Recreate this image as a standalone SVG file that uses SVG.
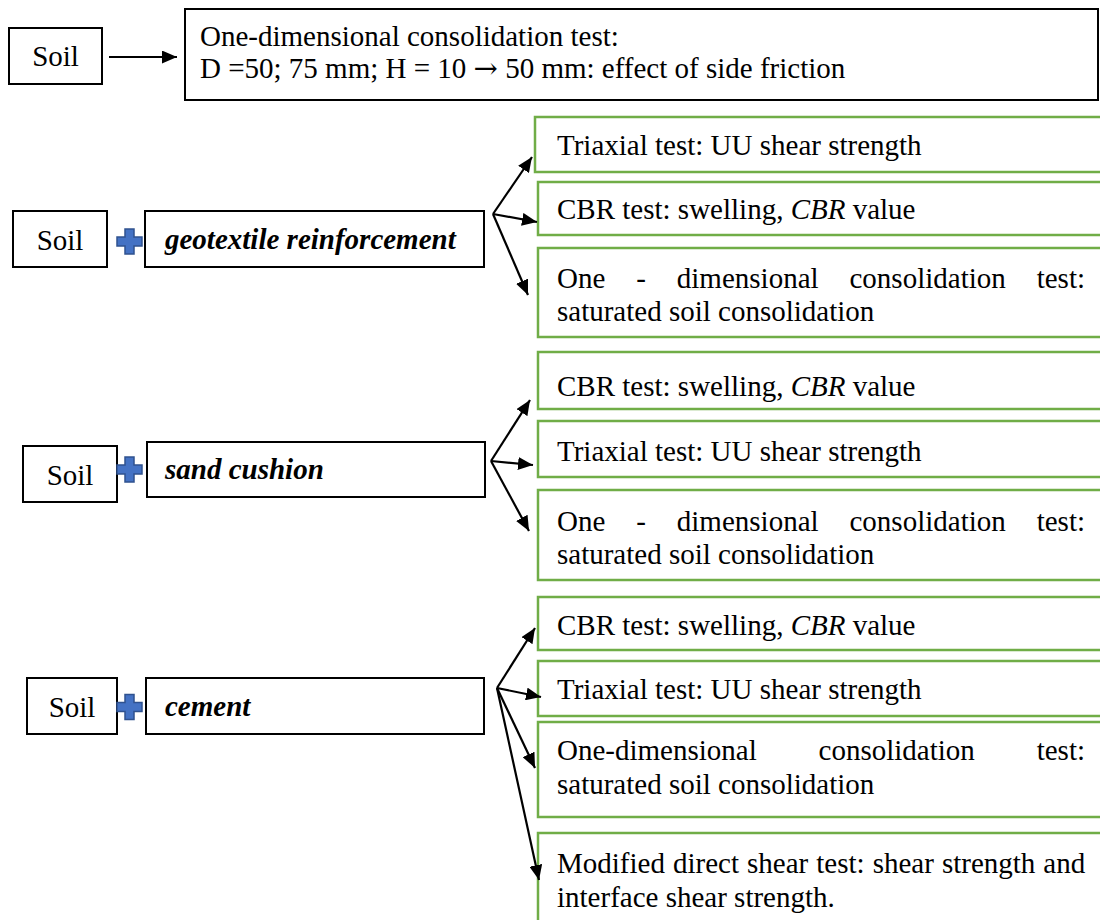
<svg xmlns="http://www.w3.org/2000/svg" width="1100" height="920" viewBox="0 0 1100 920">
<style>
.t{font-family:"Liberation Serif","Times New Roman",serif;font-size:29px;fill:#000}
.bi{font-weight:bold;font-style:italic}
.it{font-style:italic}
.sym{font-family:"DejaVu Serif","DejaVu Sans",serif}
.bk{fill:#fff;stroke:#000;stroke-width:2}
.gr{fill:#fff;stroke:#70AD47;stroke-width:2.5}
.plus{fill:#4472C4;stroke:#2F528F;stroke-width:1.5}
.c{stroke:#000;stroke-width:2.2;fill:none;marker-end:url(#ah)}
</style>
<defs>
<marker id="ah" markerUnits="userSpaceOnUse" markerWidth="15" markerHeight="13" refX="15" refY="6.5" orient="auto"><path d="M0,0 L15,6.5 L0,13 z" fill="#000"/></marker>
</defs>
<rect width="1100" height="920" fill="#fff"/>

<g id="soil1"><rect class="bk" x="9" y="28" width="93" height="56"/><text class="t" x="55.5" y="66" text-anchor="middle">Soil</text></g>
<g id="oedometer"><rect class="bk" x="185" y="9" width="913" height="91"/>
<text class="t" x="200" y="46">One-dimensional consolidation test:</text>
<text class="t" x="200" y="78">D =50; 75 mm; H = 10 <tspan class="sym">→</tspan> 50 mm: effect of side friction</text></g>

<g id="soil2"><rect class="bk" x="13" y="211" width="94" height="56"/><text class="t" x="60" y="250" text-anchor="middle">Soil</text></g>
<g id="plus2"><path class="plus" d="M125,229 h9 v8 h8 v9 h-8 v8 h-9 v-8 h-8 v-9 h8 z"/></g>
<g id="geotextile"><rect class="bk" x="145" y="211" width="339" height="56"/><text class="t bi" x="165" y="249">geotextile reinforcement</text></g>
<g id="g2-triaxial"><rect class="gr" x="535" y="117" width="580" height="55"/><text class="t" x="557" y="155">Triaxial test: UU shear strength</text></g>
<g id="g2-cbr"><rect class="gr" x="538" y="182" width="580" height="53"/><text class="t" x="557" y="219">CBR test: swelling, <tspan class="it">CBR</tspan> value</text></g>
<g id="g2-consol"><rect class="gr" x="538" y="248" width="580" height="89"/>
<text class="t" y="288"><tspan x="557">One</tspan><tspan x="636.2">-</tspan><tspan x="676.8">dimensional</tspan><tspan x="849.5">consolidation</tspan><tspan x="1036.7">test:</tspan></text>
<text class="t" x="557" y="321">saturated soil consolidation</text></g>

<g id="soil3"><rect class="bk" x="23" y="446" width="94" height="56"/><text class="t" x="70" y="485" text-anchor="middle">Soil</text></g>
<g id="plus3"><path class="plus" d="M125,457 h9 v8 h8 v9 h-8 v8 h-9 v-8 h-8 v-9 h8 z"/></g>
<g id="sand"><rect class="bk" x="147" y="442" width="338" height="55"/><text class="t bi" x="165" y="479">sand cushion</text></g>
<g id="g3-cbr"><rect class="gr" x="538" y="352" width="580" height="57"/><text class="t" x="557" y="396">CBR test: swelling, <tspan class="it">CBR</tspan> value</text></g>
<g id="g3-triaxial"><rect class="gr" x="538" y="421" width="580" height="56"/><text class="t" x="557" y="461">Triaxial test: UU shear strength</text></g>
<g id="g3-consol"><rect class="gr" x="538" y="490" width="580" height="90"/>
<text class="t" y="531"><tspan x="557">One</tspan><tspan x="636.2">-</tspan><tspan x="676.8">dimensional</tspan><tspan x="849.5">consolidation</tspan><tspan x="1036.7">test:</tspan></text>
<text class="t" x="557" y="564">saturated soil consolidation</text></g>

<g id="soil4"><rect class="bk" x="27" y="678" width="90" height="56"/><text class="t" x="72" y="717" text-anchor="middle">Soil</text></g>
<g id="plus4"><path class="plus" d="M125,694.5 h9 v8 h8 v9 h-8 v8 h-9 v-8 h-8 v-9 h8 z"/></g>
<g id="cement"><rect class="bk" x="146" y="678" width="338" height="56"/><text class="t bi" x="165" y="716">cement</text></g>
<g id="g4-cbr"><rect class="gr" x="538" y="597" width="580" height="53"/><text class="t" x="557" y="635">CBR test: swelling, <tspan class="it">CBR</tspan> value</text></g>
<g id="g4-triaxial"><rect class="gr" x="538" y="661" width="580" height="55"/><text class="t" x="557" y="699">Triaxial test: UU shear strength</text></g>
<g id="g4-consol"><rect class="gr" x="538" y="722" width="580" height="95"/>
<text class="t" y="760"><tspan x="557">One-dimensional</tspan><tspan x="818.6">consolidation</tspan><tspan x="1036.7">test:</tspan></text>
<text class="t" x="557" y="794">saturated soil consolidation</text></g>
<g id="g4-shear"><rect class="gr" x="538" y="833" width="580" height="110"/>
<text class="t" x="557" y="873" word-spacing="0.8">Modified direct shear test: shear strength and</text>
<text class="t" x="557" y="907">interface shear strength.</text></g>

<g id="connectors">
<line class="c" x1="109" y1="57" x2="177" y2="57"/>
<line class="c" x1="493" y1="214" x2="532" y2="157"/>
<line class="c" x1="493" y1="214" x2="537" y2="222"/>
<line class="c" x1="493" y1="214" x2="528" y2="295"/>
<line class="c" x1="491" y1="461" x2="530" y2="400"/>
<line class="c" x1="491" y1="461" x2="533" y2="465"/>
<line class="c" x1="491" y1="461" x2="529" y2="531"/>
<line class="c" x1="497" y1="688" x2="535" y2="628"/>
<line class="c" x1="497" y1="688" x2="541" y2="697"/>
<line class="c" x1="497" y1="688" x2="535" y2="768"/>
<line class="c" x1="497" y1="688" x2="539" y2="880"/>
</g>
</svg>
